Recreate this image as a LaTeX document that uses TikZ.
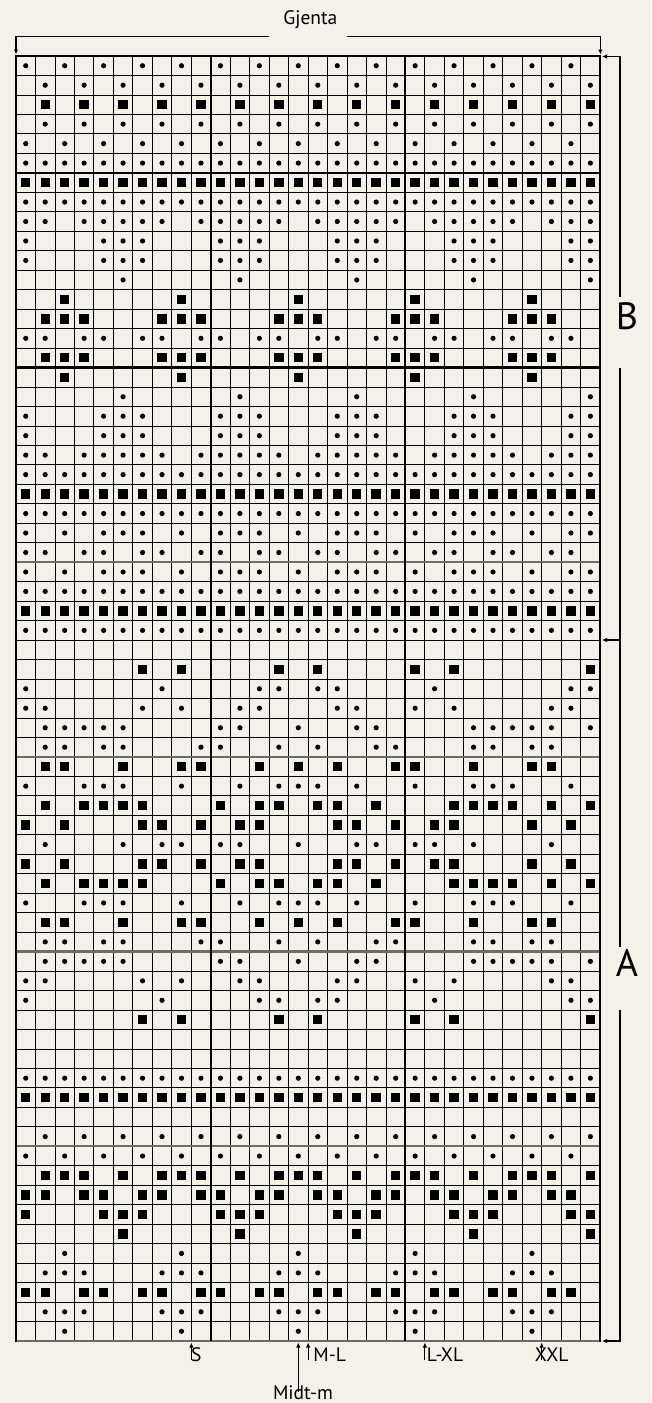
\documentclass[tikz,border=0pt]{standalone}
\usepackage{fontspec}
\setmainfont{PT Sans}
\usetikzlibrary{arrows.meta}
\definecolor{paper}{RGB}{244,241,233}
\definecolor{tenline}{RGB}{108,108,108}
\tikzset{
  thinln/.style={draw=black, line width=0.85pt},
  grayln/.style={draw=tenline, line width=2.3pt},
  thickln/.style={draw=black, line width=2.1pt},
  borderln/.style={draw=black, line width=2.6pt, line cap=rect},
  dotmark/.style={fill=black},
  sqmark/.style={fill=black},
  brk/.style={draw=black, line width=1.1pt},
  tip/.style={-{Latex[length=5pt,width=4.5pt]}},
  lab/.style={font=\fontsize{19.5}{21}\selectfont, inner sep=0pt},
  biglab/.style={font=\fontsize{38}{40}\selectfont, inner sep=0pt},
}
\def\patEv{0,2,...,28}
\def\patOd{1,3,...,29}
\def\patAll{0,...,29}
\def\patNTwo{0,1,3,4,5,6,7,9,10,11,12,13,15,16,17,18,19,21,22,23,24,25,27,28,29}
\def\patFFZ{0,4,5,6,10,11,12,16,17,18,22,23,24,28,29}
\def\patFive{5,11,17,23,29}
\def\patTwo{2,8,14,20,26}
\def\patOTT{1,2,3,7,8,9,13,14,15,19,20,21,25,26,27}
\def\patNThree{0,1,3,4,6,7,9,10,12,13,15,16,18,19,21,22,24,25,27,28}
\def\patZTFF{0,2,4,5,6,8,10,11,12,14,16,17,18,20,22,23,24,26,28,29}
\def\patOTTF{1,2,3,5,7,8,9,11,13,14,15,17,19,20,21,23,25,26,27,29}
\def\rowA{6,8,13,15,20,22,29}
\def\rowB{0,7,12,13,15,16,21,28,29}
\def\rowC{0,1,6,8,11,12,16,17,20,22,27,28}
\def\rowD{1,2,3,4,5,10,11,14,17,18,23,24,25,26,27,29}
\def\rowE{1,2,4,5,9,10,13,15,18,19,23,24,26,27}
\def\rowF{1,2,5,8,9,12,14,16,19,20,23,26,27}
\def\rowG{0,3,4,5,8,11,13,14,15,17,20,23,24,25,28}
\def\rowH{1,3,4,5,6,10,12,13,15,16,18,22,23,24,25,27,29}
\def\rowI{0,2,6,7,9,11,12,16,17,19,21,22,26,28}
\def\rowJ{1,5,7,8,10,11,14,17,18,20,21,23,27}
\newcommand\mkD[2]{\foreach \cc in #2 {\fill[dotmark] (\cc+0.5,#1+0.5) circle[radius=2.6pt];}}
\newcommand\mkS[2]{\foreach \cc in #2 {\fill[sqmark] ([shift={(-4.7pt,-4.7pt)}]\cc+0.5,#1+0.5) rectangle ++(9.4pt,9.4pt);}}
\begin{document}
\begin{tikzpicture}[x=1pt,y=-1pt]
\fill[paper] (0,0) rectangle (651,1403);
\useasboundingbox (0,0) rectangle (651,1403);
\begin{scope}[shift={(16,56)}, x=19.47pt, y=-19.47pt]
  \foreach \c in {1,...,29} \draw[thinln] (\c,0) -- (\c,66);
  \foreach \r in {1,...,65} \draw[thinln] (0,\r) -- (30,\r);
  \foreach \r in {26,36,46,56,66} \draw[grayln] (0,\r) -- (30,\r);
  \foreach \r in {6,16} \draw[thickln] (0,\r) -- (30,\r);
  \foreach \c in {10,20} \draw[thickln] (\c,0) -- (\c,66);
  \draw[borderln] (0,66) -- (0,0) -- (30,0) -- (30,66);
  % B section
  \mkD{0}{\patEv}  \mkD{1}{\patOd}  \mkS{2}{\patOd}  \mkD{3}{\patOd}
  \mkD{4}{\patEv}  \mkD{5}{\patAll} \mkS{6}{\patAll} \mkD{7}{\patAll}
  \mkD{8}{\patNTwo} \mkD{9}{\patFFZ} \mkD{10}{\patFFZ} \mkD{11}{\patFive}
  \mkS{12}{\patTwo} \mkS{13}{\patOTT} \mkD{14}{\patNThree} \mkS{15}{\patOTT}
  \mkS{16}{\patTwo} \mkD{17}{\patFive} \mkD{18}{\patFFZ} \mkD{19}{\patFFZ}
  \mkD{20}{\patNTwo} \mkD{21}{\patAll} \mkS{22}{\patAll} \mkD{23}{\patAll}
  \mkD{24}{\patZTFF} \mkD{25}{\patNThree} \mkD{26}{\patZTFF} \mkD{27}{\patAll}
  \mkS{28}{\patAll} \mkD{29}{\patAll}
  % A section
  \mkS{31}{\rowA} \mkD{32}{\rowB} \mkD{33}{\rowC} \mkD{34}{\rowD} \mkD{35}{\rowE}
  \mkS{36}{\rowF} \mkD{37}{\rowG} \mkS{38}{\rowH} \mkS{39}{\rowI} \mkD{40}{\rowJ}
  \mkS{41}{\rowI} \mkS{42}{\rowH} \mkD{43}{\rowG} \mkS{44}{\rowF} \mkD{45}{\rowE}
  \mkD{46}{\rowD} \mkD{47}{\rowC} \mkD{48}{\rowB} \mkS{49}{\rowA}
  \mkD{52}{\patAll} \mkS{53}{\patAll} \mkD{55}{\patOd} \mkD{56}{\patEv}
  \mkS{57}{\patOTTF} \mkS{58}{\patNThree} \mkS{59}{\patFFZ} \mkS{60}{\patFive}
  \mkD{61}{\patTwo} \mkD{62}{\patOTT} \mkS{63}{\patNThree} \mkD{64}{\patOTT}
  \mkD{65}{\patTwo}
\end{scope}
% top bracket: Gjenta
\coordinate (gjLend) at (269,36.7);
\coordinate (gjLcorner) at (16,36.7);
\coordinate (gjLtip) at (16,54.5);
\coordinate (gjRend) at (347,36.7);
\coordinate (gjRcorner) at (600.4,36.7);
\coordinate (gjRtip) at (600.4,54.5);
\node[lab, anchor=base] (gjenta) at (310.4,24) {Gjenta};
\draw[brk, tip] (gjLend) -- (gjLcorner) -- (gjLtip);
\draw[brk, tip] (gjRend) -- (gjRcorner) -- (gjRtip);
% right brackets B and A
\coordinate (bTopTip) at (602,56.5);
\coordinate (bTopCorner) at (620,56.5);
\coordinate (bGapTop) at (620,296.5);
\coordinate (bGapBot) at (620,368);
\coordinate (abCorner) at (620,640);
\coordinate (abTip) at (602,640);
\coordinate (aGapTop) at (620,946.5);
\coordinate (aGapBot) at (620,1010);
\coordinate (aBotCorner) at (620,1341);
\coordinate (aBotTip) at (602,1341);
\draw[brk, tip] (bGapTop) -- (bTopCorner) -- (bTopTip);
\draw[brk, tip] (bGapBot) -- (abCorner) -- (abTip);
\draw[brk] (abCorner) -- (aGapTop);
\draw[brk, tip] (aGapBot) -- (aBotCorner) -- (aBotTip);
\node[biglab] (labB) at (627,316.5) {B};
\node[biglab] (labA) at (627,963) {A};
% bottom size markers
\node[lab, anchor=base] (sS) at (196.2,1361) {S};
\node[lab, anchor=base] (sML) at (329.7,1361) {M-L};
\node[lab, anchor=base] (sLXL) at (445,1361) {L-XL};
\node[lab, anchor=base] (sXXL) at (551.7,1361) {XXL};
\node[lab, anchor=base] (midt) at (303,1399) {Midt-m};
\coordinate (sTip) at (191.4,1342.5);
\coordinate (sFoot) at (191.4,1360);
\coordinate (mlTip) at (308.1,1342.5);
\coordinate (mlFoot) at (308.1,1360);
\coordinate (lxlTip) at (424.9,1342.5);
\coordinate (lxlFoot) at (424.9,1360);
\coordinate (xxlTip) at (541.7,1342.5);
\coordinate (xxlFoot) at (541.7,1360);
\coordinate (midTip) at (298.3,1342.5);
\coordinate (midFoot) at (298.3,1392);
\draw[brk, tip] (sFoot) -- (sTip);
\draw[brk, tip] (mlFoot) -- (mlTip);
\draw[brk, tip] (lxlFoot) -- (lxlTip);
\draw[brk, tip] (xxlFoot) -- (xxlTip);
\draw[brk, tip] (midFoot) -- (midTip);
\end{tikzpicture}
\end{document}
